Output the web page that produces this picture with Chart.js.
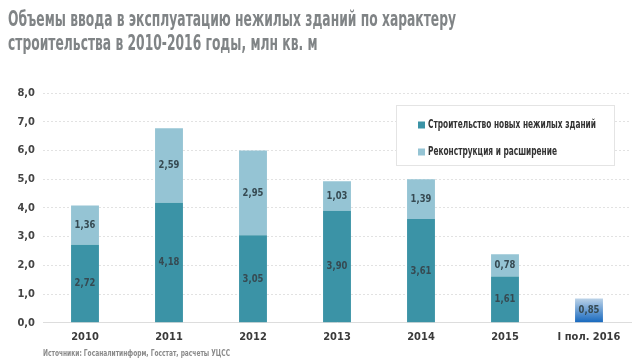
<!DOCTYPE html>
<html lang="ru">
<head>
<meta charset="UTF-8">
<title>Объемы ввода нежилых зданий</title>
<script src="https://cdn.jsdelivr.net/npm/chart.js"></script>
<style>
    html, body { margin: 0; padding: 0; background: #fff; }
    #wrap { width: 641px; height: 362px; }
</style>
</head>
<body>
<div id="wrap"><canvas id="myChart" width="641" height="362"></canvas></div>
<script>
    // данные
    const years = ['2010', '2011', '2012', '2013', '2014', '2015', 'I пол. 2016'];
    const newBuild = [2.72, 4.18, 3.05, 3.90, 3.61, 1.61, 0.85];
    const reconstr = [1.36, 2.59, 2.95, 1.03, 1.39, 0.78, null];
    const seriesNames = ['Строительство новых нежилых зданий', 'Реконструкция и расширение'];
    const titleLines = ['Объемы ввода в эксплуатацию нежилых зданий по характеру',
                        'строительства в 2010-2016 годы, млн кв. м'];
    const sourceText = 'Источники: Госаналитинформ, Госстат, расчеты УЦСС';

    const FONT = '"DejaVu Sans Condensed", "Liberation Sans Narrow", sans-serif';
    const DARK = '#3b93a6';
    const LIGHT = '#95c4d4';
    const fmt = v => v.toFixed(2).replace('.', ',');

    // узкий текст (сжатие по горизонтали)
    function narrowText(c, text, x, y, sx) {
        c.save();
        c.translate(x, y);
        c.scale(sx, 1);
        c.fillText(text, 0, 0);
        c.restore();
    }

    // цвет последнего столбца - градиент
    function darkColor(ctx) {
        if (ctx.dataIndex !== years.length - 1) return DARK;
        const chart = ctx.chart;
        if (!chart.chartArea) return DARK;
        const y = chart.scales.y;
        const g = chart.ctx.createLinearGradient(0, y.getPixelForValue(newBuild[ctx.dataIndex]), 0, y.getPixelForValue(0));
        g.addColorStop(0, '#bcd3e8');
        g.addColorStop(1, '#1466bd');
        return g;
    }

    const textPlugin = {
        id: 'textPlugin',
        afterDraw(chart) {
            const c = chart.ctx;
            c.save();
            c.font = 'bold 22px ' + FONT;
            c.fillStyle = '#808486';
            c.textBaseline = 'alphabetic';
            const sx = 448 / c.measureText(titleLines[0]).width;
            narrowText(c, titleLines[0], 8, 26, sx);
            narrowText(c, titleLines[1], 8, 50, sx);
            // источник
            c.font = 'bold 9px ' + FONT;
            c.fillStyle = '#8a8a8a';
            const sx2 = 187 / c.measureText(sourceText).width;
            narrowText(c, sourceText, 43, 356, sx2);
            c.restore();
        }
    };

    const valueLabels = {
        id: 'valueLabels',
        afterDatasetsDraw(chart) {
            const c = chart.ctx;
            c.save();
            c.font = 'bold 11px ' + FONT;
            c.fillStyle = '#364a52';
            c.textAlign = 'center';
            c.textBaseline = 'middle';
            chart.data.datasets.forEach((ds, i) => {
                chart.getDatasetMeta(i).data.forEach((bar, j) => {
                    const v = ds.data[j];
                    if (v == null) return;
                    c.save();
                    c.translate(bar.x, (bar.y + bar.base) / 2);
                    c.scale(0.85, 1);
                    c.fillText(fmt(v), 0, 0);
                    c.restore();
                });
            });
            c.restore();
        }
    };

    const boxLegend = {
        id: 'boxLegend',
        afterDraw(chart) {
            const c = chart.ctx;
            c.save();
            c.fillStyle = '#ffffff';
            c.strokeStyle = '#e4e4e4';
            c.lineWidth = 1;
            c.fillRect(396, 105, 218, 60);
            c.strokeRect(396.5, 105.5, 218, 60);
            c.font = 'bold 12px ' + FONT;
            c.textBaseline = 'middle';
            const sx = 168 / c.measureText(seriesNames[0]).width;
            const cols = [DARK, LIGHT];
            seriesNames.forEach((name, i) => {
                const yy = 125 + i * 27;
                c.fillStyle = cols[i];
                c.fillRect(418, yy - 3.5, 7, 7);
                c.fillStyle = '#333';
                narrowText(c, name, 428, yy, sx);
            });
            c.restore();
        }
    };

    new Chart(document.getElementById('myChart'), {
        type: 'bar',
        data: {
            labels: years,
            datasets: [
                { label: seriesNames[0], data: newBuild, backgroundColor: darkColor,
                  barPercentage: 0.4, categoryPercentage: 0.83 },
                { label: seriesNames[1], data: reconstr, backgroundColor: LIGHT,
                  barPercentage: 0.4, categoryPercentage: 0.83 }
            ]
        },
        options: {
            responsive: false,
            animation: false,
            layout: { padding: { left: 8, right: 10, top: 93, bottom: 18 } },
            plugins: {
                legend: { display: false },
                tooltip: { enabled: false }
            },
            scales: {
                x: {
                    stacked: true,
                    grid: { display: false },
                    border: { color: '#dddddd' },
                    ticks: { color: '#3a3a3a', font: { family: FONT, size: 11, weight: 'bold' }, padding: 0 }
                },
                y: {
                    stacked: true,
                    min: 0, max: 8,
                    afterFit: s => { s.width = 35; },
                    ticks: { stepSize: 1, color: '#444', padding: 8,
                             font: { family: FONT, size: 11, weight: 'bold' },
                             callback: v => v.toFixed(1).replace('.', ',') },
                    grid: { color: '#e2e2e2', drawTicks: false, lineWidth: 1 },
                    border: { display: false, dash: [2, 2] }
                }
            }
        },
        plugins: [textPlugin, valueLabels, boxLegend]
    });
</script>
</body>
</html>
